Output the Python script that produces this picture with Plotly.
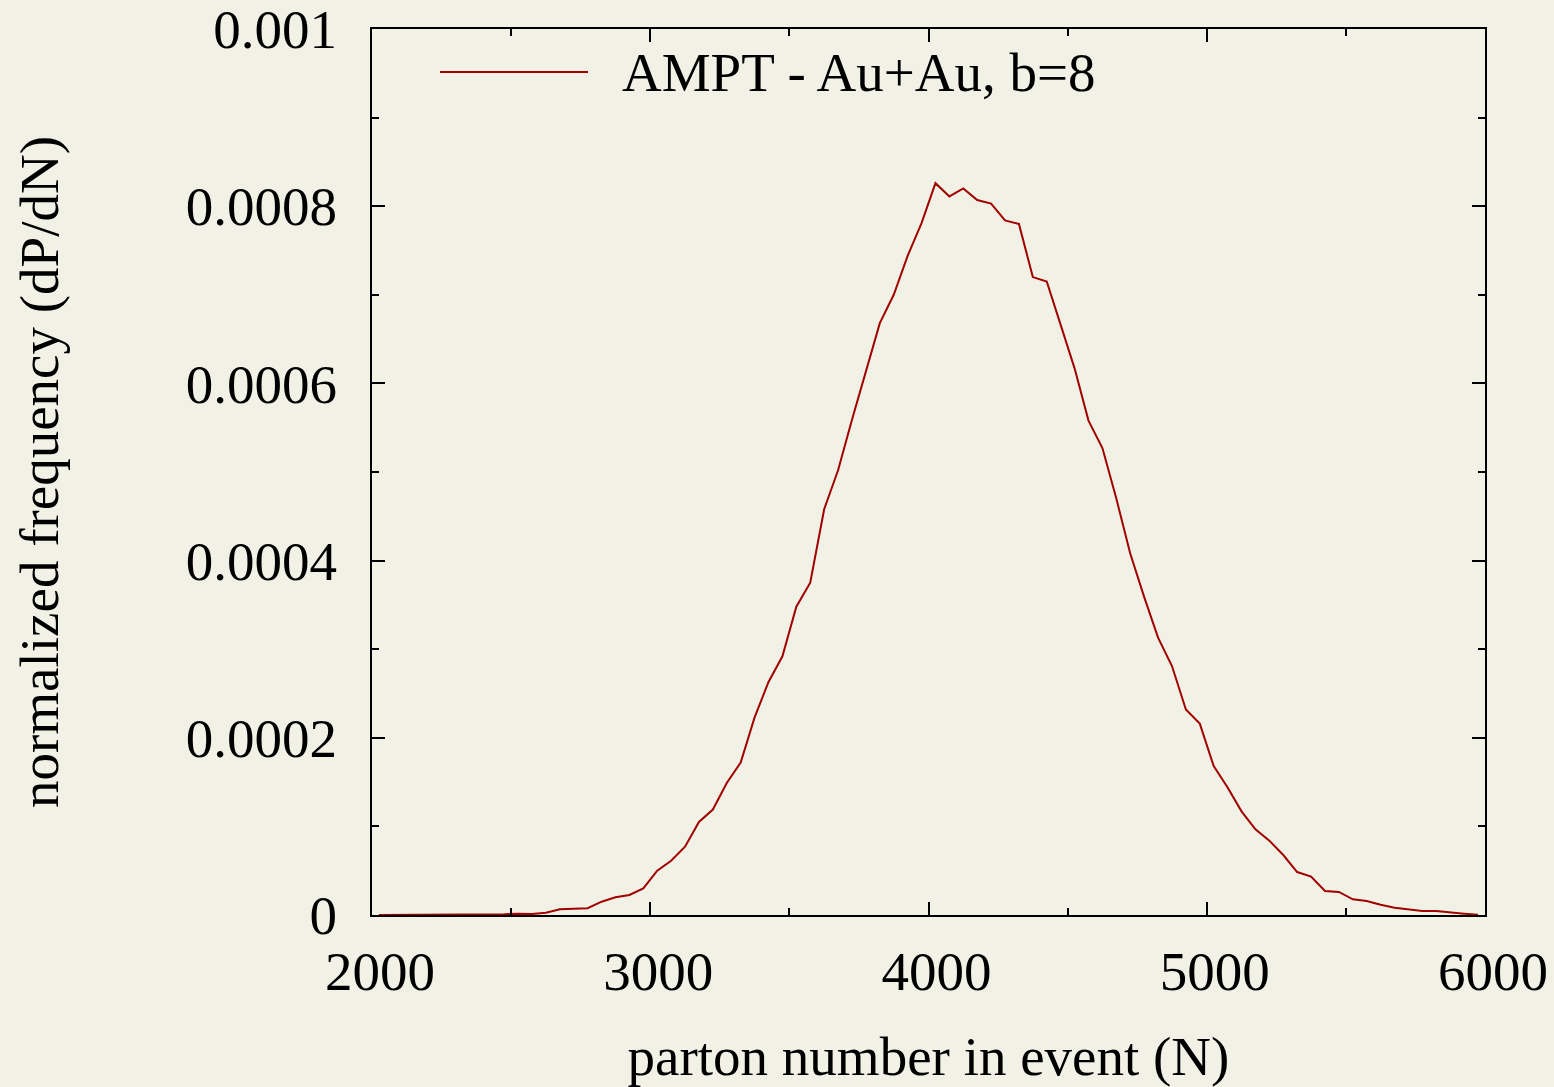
import plotly.graph_objects as go

# parton number bin centres
parton_n = [2025, 2075, 2125, 2175, 2225, 2275, 2325, 2375, 2425, 2475,
            2525, 2575, 2625, 2675, 2725, 2775, 2825, 2875, 2925, 2975,
            3025, 3075, 3125, 3175, 3225, 3275, 3325, 3375, 3425, 3475,
            3525, 3575, 3625, 3675, 3725, 3775, 3825, 3875, 3925, 3975,
            4025, 4075, 4125, 4175, 4225, 4275, 4325, 4375, 4425, 4475,
            4525, 4575, 4625, 4675, 4725, 4775, 4825, 4875, 4925, 4975,
            5025, 5075, 5125, 5175, 5225, 5275, 5325, 5375, 5425, 5475,
            5525, 5575, 5625, 5675, 5725, 5775, 5825, 5875, 5925, 5975]

# normalized frequency dP/dN
freq = [0.0, 0.0, 0.0, 0.0, 0.0, 0.0, 0.0, 0.0, 0.0000003, 0.0000008,
        0.0000015, 0.0000012, 0.0000026, 0.0000064, 0.0000070, 0.0000076, 0.0000150, 0.0000200, 0.0000226, 0.0000301,
        0.0000500, 0.0000613, 0.0000771, 0.000105, 0.000119, 0.000149, 0.000172, 0.000223, 0.000263, 0.000292,
        0.000348, 0.000375, 0.000458, 0.000502, 0.000559, 0.000615, 0.000668, 0.000700, 0.000744, 0.000781,
        0.000826, 0.000811, 0.000820, 0.000807, 0.000803, 0.000784, 0.000780, 0.000720, 0.000715, 0.000666,
        0.000617, 0.000558, 0.000527, 0.000470, 0.000408, 0.000359, 0.000313, 0.000281, 0.000232, 0.000216,
        0.000168, 0.000144, 0.000117, 0.0000967, 0.0000839, 0.0000677, 0.0000485, 0.0000433, 0.0000271, 0.0000260,
        0.0000177, 0.0000158, 0.0000116, 0.0000083, 0.0000064, 0.0000045, 0.0000045, 0.0000034, 0.0000015, 0.0000002]

x_tickvals = [2000, 3000, 4000, 5000, 6000]
x_ticktext = ["2000", "3000", "4000", "5000", "6000"]
y_tickvals = [0, 0.0002, 0.0004, 0.0006, 0.0008, 0.001]
y_ticktext = ["0", "0.0002", "0.0004", "0.0006", "0.0008", "0.001"]

series_name = "AMPT - Au+Au, b=8"
line_color = "#a00000"
bg = "#f2f1e6"
font_family = "Liberation Serif, Times New Roman, serif"
fs = 55

fig = go.Figure()
fig.add_trace(go.Scatter(x=parton_n, y=freq, mode="lines", name=series_name,
                         line=dict(color=line_color, width=2), showlegend=False))

# legend sample (key) drawn as shape + text
fig.add_shape(type="line", xref="paper", yref="paper",
              x0=(440 - 372) / 1113, x1=(588 - 372) / 1113,
              y0=(915 - 72) / 886, y1=(915 - 72) / 886,
              line=dict(color=line_color, width=2))
fig.add_annotation(text=series_name, xref="paper", yref="paper",
                   x=(620 - 372) / 1113, y=(915 - 72) / 886,
                   xanchor="left", yanchor="middle", showarrow=False,
                   font=dict(family=font_family, size=fs, color="black"))

axis_common = dict(
    showline=True, linecolor="black", linewidth=2, mirror="allticks",
    ticks="inside", ticklen=13, tickwidth=2, tickcolor="black",
    showgrid=False, zeroline=False,
    tickfont=dict(family=font_family, size=fs, color="black"),
)

fig.update_xaxes(range=[2000, 6000.001], tickvals=x_tickvals, ticktext=x_ticktext,
                 minor=dict(ticks="inside", ticklen=7, tickwidth=2, tickcolor="black", dtick=500, tick0=2000),
                 ticklabelstandoff=7, ticklabelshift=8,
                 title=dict(text="parton number in event (N)", standoff=40,
                            font=dict(family=font_family, size=fs, color="black")),
                 **axis_common)
fig.update_yaxes(range=[0, 0.0010000001], tickvals=y_tickvals, ticktext=y_ticktext,
                 minor=dict(ticks="inside", ticklen=7, tickwidth=2, tickcolor="black", dtick=0.0001, tick0=0),
                 ticklabelstandoff=22, ticklabeloverflow="allow",
                 title=dict(text="normalized frequency (dP/dN)", standoff=110,
                            font=dict(family=font_family, size=fs, color="black")),
                 **axis_common)

fig.update_layout(
    width=1554, height=1087,
    margin=dict(l=372, r=69, t=29, b=172, autoexpand=False),
    paper_bgcolor=bg, plot_bgcolor=bg,
    font=dict(family=font_family, size=fs, color="black"),
    showlegend=False,
)

fig.write_html("out.html")
